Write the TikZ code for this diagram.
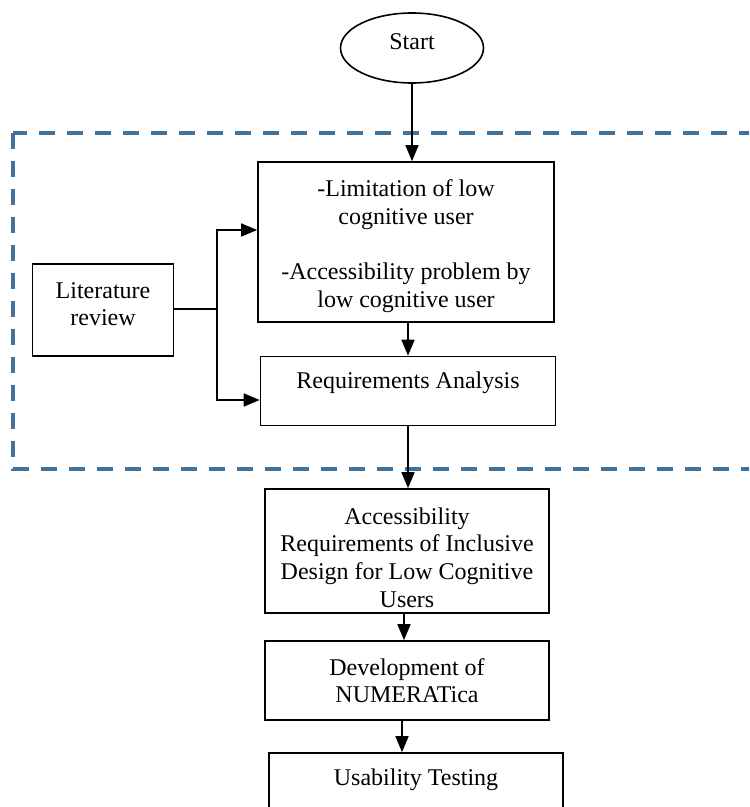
\documentclass[tikz,border=0pt]{standalone}
\usepackage{fontspec}
\setmainfont{Liberation Serif}
\usetikzlibrary{shapes.geometric,arrows.meta}
\definecolor{fenceblue}{HTML}{41719C}

\begin{document}
\begin{tikzpicture}[x=0.5pt,y=-0.5pt,
    font=\fontsize{12}{13.8}\selectfont,
    box/.style={draw, thick, rectangle, align=center, inner sep=2pt},
    oval/.style={draw, thick, ellipse, minimum width=71.5pt, minimum height=35pt},
    arr/.style={-{Triangle[length=8pt,width=6.5pt]}, thick},
    fence/.style={draw=fenceblue, line width=1.6pt, dash pattern=on 8pt off 6pt}]
    \useasboundingbox (0,0) rectangle (749,807);
    \clip (0,0) rectangle (749,807);

    % dashed frame round the analysis phase
    \draw[fence] (13,133) rectangle (790,469);

    \node[oval, text depth=6pt] (start) at (412,48) {Start};
    \node[box, minimum width=148pt, minimum height=80pt, text height=65pt, text depth=0pt] (limits) at (406,242)
        {-Limitation of low\\cognitive user\\[13.8pt]-Accessibility problem by\\low cognitive user};
    \node[box, minimum width=70.5pt, minimum height=46pt, text depth=6pt] (lit) at (103,310)
        {Literature\\review};
    \node[box, minimum width=147.5pt, minimum height=34.5pt, text depth=10.6pt] (reqs) at (408,391)
        {Requirements Analysis};
    \node[box, minimum width=142pt, minimum height=62pt, text height=56pt, text depth=0pt] (access) at (407,551)
        {Accessibility\\Requirements of Inclusive\\Design for Low Cognitive\\Users};
    \node[box, minimum width=142pt, minimum height=39.5pt] (devel) at (407,680.5)
        {Development of\\NUMERATica};
    \node[box, minimum width=147pt, minimum height=34.5pt, text depth=10.6pt] (usab) at (416,787.5)
        {Usability Testing};

    \coordinate (fork) at (217,309);

    \draw[arr] (start.south) -- (start.south |- limits.north);
    \draw[thick] (lit.east |- fork) -- (fork);
    \draw[arr] (fork) |- ([yshift=6pt]limits.west);
    \draw[arr] (fork) |- ([yshift=-4.5pt]reqs.west);
    \draw[arr] (limits.south -| reqs.north) -- (reqs.north);
    \draw[arr] (reqs.south) -- (reqs.south |- access.north);
    \draw[arr] ([xshift=-1.5pt]access.south) -- ([xshift=-1.5pt]access.south |- devel.north);
    \draw[arr] ([xshift=-2.5pt]devel.south) -- ([xshift=-2.5pt]devel.south |- usab.north);
\end{tikzpicture}
\end{document}
